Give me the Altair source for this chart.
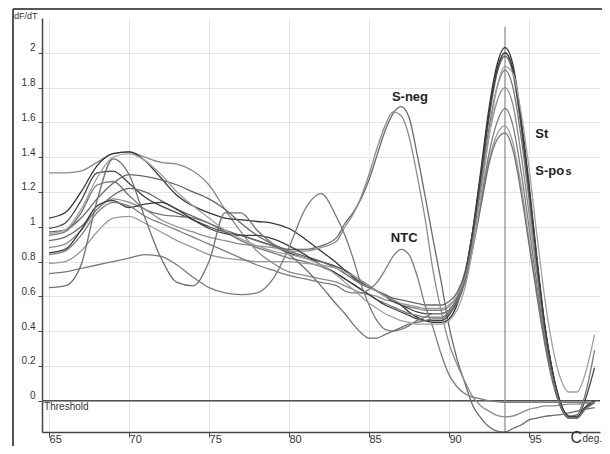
import altair as alt
import pandas as pd

# temperature grids (deg C)
temps_left = [65, 66, 67, 68, 69, 70, 71, 72, 73, 74, 75, 76, 77, 78, 79, 80, 81, 82, 83]
temps_mid = [83.5, 84, 84.5, 85, 85.5, 86, 86.5, 87, 87.5, 88, 88.5]
temps_right = [89, 89.5, 90, 90.5, 91, 91.5, 92, 92.5, 93, 93.5, 94, 94.5, 95, 95.5, 96, 96.5, 97, 97.5, 98, 98.5, 99.1]

# dF/dT values
A_left = [1.31, 1.31, 1.32, 1.37, 1.42, 1.43, 1.40, 1.37, 1.36, 1.32, 1.24, 1.10, 0.97, 0.86, 0.79, 0.74, 0.72, 0.70, 0.68]
A_mid = [0.66, 0.64, 0.62, 0.61, 0.60, 0.58, 0.57, 0.55, 0.54, 0.53, 0.52]
A_right = [0.52, 0.52, 0.54, 0.60, 0.72, 0.94, 1.22, 1.52, 1.72, 1.80, 1.70, 1.42, 1.08, 0.72, 0.38, 0.13, -0.03, -0.09, -0.09, -0.04, 0.00]

B_left = [1.05, 1.08, 1.20, 1.35, 1.42, 1.43, 1.38, 1.28, 1.18, 1.12, 1.08, 1.05, 1.04, 1.03, 1.02, 0.99, 0.93, 0.86, 0.79]
B_mid = [0.75, 0.71, 0.68, 0.66, 0.63, 0.61, 0.58, 0.55, 0.51, 0.48, 0.46]
B_right = [0.45, 0.45, 0.47, 0.55, 0.71, 0.99, 1.33, 1.68, 1.93, 2.03, 1.93, 1.63, 1.25, 0.82, 0.43, 0.16, -0.02, -0.10, -0.10, -0.04, 0.00]

C_left = [0.99, 1.02, 1.15, 1.31, 1.32, 1.25, 1.17, 1.12, 1.08, 1.04, 1.00, 0.97, 0.95, 0.92, 0.89, 0.85, 0.82, 0.80, 0.77]
C_mid = [0.75, 0.72, 0.69, 0.66, 0.63, 0.60, 0.57, 0.55, 0.53, 0.51, 0.50]
C_right = [0.50, 0.50, 0.52, 0.59, 0.73, 0.98, 1.30, 1.65, 1.90, 2.00, 1.90, 1.60, 1.22, 0.80, 0.42, 0.15, -0.02, -0.09, -0.10, 0.00, 0.19]

D_left = [0.97, 0.98, 1.05, 1.16, 1.25, 1.30, 1.29, 1.27, 1.24, 1.20, 1.16, 1.10, 1.02, 0.95, 0.90, 0.86, 0.83, 0.80, 0.76]
D_mid = [0.73, 0.70, 0.67, 0.65, 0.63, 0.61, 0.59, 0.58, 0.57, 0.56, 0.55]
D_right = [0.55, 0.55, 0.57, 0.62, 0.74, 0.98, 1.28, 1.62, 1.88, 1.98, 1.88, 1.58, 1.20, 0.79, 0.41, 0.14, -0.03, -0.10, -0.10, -0.05, -0.01]

E_left = [0.95, 0.97, 1.08, 1.24, 1.26, 1.18, 1.10, 1.07, 1.06, 1.05, 1.02, 0.97, 0.92, 0.88, 0.85, 0.82, 0.80, 0.77, 0.73]
E_mid = [0.70, 0.67, 0.64, 0.61, 0.58, 0.56, 0.54, 0.52, 0.50, 0.49, 0.48]
E_right = [0.48, 0.48, 0.51, 0.58, 0.71, 0.95, 1.25, 1.57, 1.80, 1.90, 1.80, 1.52, 1.16, 0.76, 0.40, 0.14, -0.03, -0.09, -0.08, 0.03, 0.29]

F_left = [0.92, 0.94, 1.00, 1.10, 1.18, 1.22, 1.20, 1.15, 1.10, 1.06, 1.02, 0.98, 0.95, 0.92, 0.89, 0.87, 0.87, 0.89, 0.94]
F_mid = [1.02, 1.08, 1.16, 1.27, 1.41, 1.55, 1.65, 1.69, 1.63, 1.42, 1.18]
F_right = [0.93, 0.69, 0.43, 0.24, 0.10, -0.03, -0.10, -0.15, -0.175, -0.18, -0.16, -0.14, -0.11, -0.10, -0.09, -0.085, -0.08, -0.07, -0.06, -0.05, -0.04]

G_left = [0.88, 0.90, 0.98, 1.10, 1.16, 1.14, 1.10, 1.04, 1.00, 0.97, 0.94, 0.92, 0.90, 0.89, 0.88, 0.86, 0.86, 0.88, 0.92]
G_mid = [1.00, 1.07, 1.17, 1.30, 1.45, 1.58, 1.66, 1.64, 1.52, 1.30, 1.05]
G_right = [0.75, 0.52, 0.33, 0.21, 0.11, 0.02, -0.03, -0.06, -0.085, -0.093, -0.088, -0.07, -0.05, -0.04, -0.03, -0.03, -0.025, -0.02, -0.02, -0.015, -0.01]

H_left = [0.85, 0.87, 0.98, 1.12, 1.15, 1.11, 1.13, 1.14, 1.10, 1.04, 0.99, 0.96, 0.95, 0.95, 0.93, 0.89, 0.84, 0.78, 0.73]
H_mid = [0.70, 0.67, 0.64, 0.61, 0.58, 0.55, 0.53, 0.51, 0.49, 0.47, 0.46]
H_right = [0.46, 0.46, 0.49, 0.57, 0.72, 0.98, 1.30, 1.65, 1.90, 2.00, 1.90, 1.60, 1.22, 0.80, 0.42, 0.15, -0.02, -0.09, -0.09, -0.04, 0.00]

I_left = [0.79, 0.80, 0.86, 0.97, 1.05, 1.06, 1.02, 0.97, 0.92, 0.88, 0.84, 0.82, 0.81, 0.80, 0.80, 0.80, 0.79, 0.78, 0.76]
I_mid = [0.74, 0.72, 0.69, 0.66, 0.63, 0.60, 0.58, 0.56, 0.55, 0.54, 0.53]
I_right = [0.53, 0.53, 0.55, 0.60, 0.71, 0.90, 1.14, 1.38, 1.53, 1.58, 1.48, 1.24, 0.93, 0.62, 0.33, 0.11, -0.04, -0.10, -0.10, -0.05, -0.01]

J_left = [0.73, 0.74, 0.76, 0.78, 0.80, 0.82, 0.84, 0.83, 0.78, 0.71, 0.65, 0.62, 0.61, 0.62, 0.70, 0.88, 1.10, 1.19, 1.05]
J_mid = [0.95, 0.82, 0.67, 0.55, 0.46, 0.41, 0.40, 0.41, 0.43, 0.46, 0.48]
J_right = [0.50, 0.50, 0.52, 0.58, 0.69, 0.90, 1.15, 1.42, 1.60, 1.68, 1.58, 1.32, 1.00, 0.66, 0.35, 0.12, -0.04, -0.10, -0.10, -0.05, -0.01]

K_left = [0.65, 0.66, 0.78, 1.15, 1.39, 1.30, 1.05, 0.82, 0.68, 0.66, 0.80, 1.08, 1.08, 0.98, 0.90, 0.84, 0.76, 0.66, 0.55]
K_mid = [0.50, 0.44, 0.39, 0.36, 0.36, 0.38, 0.40, 0.42, 0.44, 0.45, 0.46]
K_right = [0.47, 0.47, 0.50, 0.56, 0.68, 0.88, 1.12, 1.36, 1.50, 1.54, 1.44, 1.20, 0.90, 0.60, 0.32, 0.10, -0.04, -0.10, -0.10, -0.05, -0.01]

L_left = [0.84, 0.86, 0.95, 1.08, 1.14, 1.12, 1.06, 1.02, 0.98, 0.94, 0.90, 0.86, 0.82, 0.78, 0.75, 0.72, 0.70, 0.68, 0.66]
L_mid = [0.63, 0.62, 0.62, 0.64, 0.68, 0.75, 0.83, 0.87, 0.84, 0.72, 0.55]
L_right = [0.42, 0.27, 0.15, 0.08, 0.04, 0.02, 0.01, 0.00, -0.005, -0.01, -0.01, -0.01, -0.01, -0.01, -0.01, -0.01, -0.01, -0.01, -0.01, -0.01, -0.01]

M_left = [0.96, 0.98, 1.10, 1.28, 1.40, 1.42, 1.38, 1.30, 1.20, 1.12, 1.05, 0.98, 0.93, 0.89, 0.86, 0.84, 0.82, 0.78, 0.72]
M_mid = [0.68, 0.64, 0.60, 0.56, 0.53, 0.50, 0.48, 0.46, 0.45, 0.44, 0.44]
M_right = [0.44, 0.44, 0.46, 0.52, 0.65, 0.88, 1.18, 1.52, 1.80, 1.92, 1.88, 1.66, 1.34, 0.95, 0.58, 0.30, 0.12, 0.05, 0.05, 0.15, 0.38]

curve_names = ["A", "B", "C", "D", "E", "F", "G", "H", "I", "J", "K", "L", "M"]
curve_colors = ["#8a8a8a", "#333333", "#454545", "#666666", "#777777", "#6a6a6a", "#8c8c8c",
                "#3d3d3d", "#9a9a9a", "#7a7a7a", "#707070", "#7c7c7c", "#a0a0a0"]
curve_parts = {
    "A": (A_left, A_mid, A_right), "B": (B_left, B_mid, B_right), "C": (C_left, C_mid, C_right),
    "D": (D_left, D_mid, D_right), "E": (E_left, E_mid, E_right), "F": (F_left, F_mid, F_right),
    "G": (G_left, G_mid, G_right), "H": (H_left, H_mid, H_right), "I": (I_left, I_mid, I_right),
    "J": (J_left, J_mid, J_right), "K": (K_left, K_mid, K_right), "L": (L_left, L_mid, L_right),
    "M": (M_left, M_mid, M_right),
}

x_ticks = [65, 70, 75, 80, 85, 90, 95]
y_ticks = [0, 0.2, 0.4, 0.6, 0.8, 1, 1.2, 1.4, 1.6, 1.8, 2]

temps = temps_left + temps_mid + temps_right
rows = []
for name in curve_names:
    vals = curve_parts[name][0] + curve_parts[name][1] + curve_parts[name][2]
    for i, (t, v) in enumerate(zip(temps, vals)):
        rows.append({"curve": name, "t": t, "v": v, "i": i})
df = pd.DataFrame(rows)

FONT = "Liberation Sans"
xscale = alt.Scale(domain=[64.56, 99.44], nice=False, zero=False)
yscale = alt.Scale(domain=[-0.18, 2.2], nice=False, zero=False)

xaxis = alt.Axis(values=x_ticks, format="d", title=None, labelAlign="left", labelBaseline="top",
                 labelPadding=-4, labelFlush=False, tickSize=5, labelFontSize=11, labelColor="#333",
                 labelFont=FONT, domainColor="#444", domainWidth=1.5, tickColor="#444",
                 gridColor="#e4e4e4", gridWidth=1)
yaxis = alt.Axis(values=y_ticks, format="~g", title=None, labelBaseline="bottom", labelPadding=3,
                 labelFlush=False, tickSize=4, labelFontSize=10, labelColor="#333", labelFont=FONT,
                 domainColor="#444", domainWidth=1.5, tickColor="#444", gridColor="#e4e4e4", gridWidth=1)

lines = alt.Chart(df).mark_line(interpolate="monotone", strokeWidth=1.3, clip=True).encode(
    x=alt.X("t:Q", scale=xscale, axis=xaxis),
    y=alt.Y("v:Q", scale=yscale, axis=yaxis),
    color=alt.Color("curve:N", scale=alt.Scale(domain=curve_names, range=curve_colors), legend=None),
    detail="curve:N",
    order="i:Q",
)

threshold = alt.Chart(pd.DataFrame({"v": [0.0]})).mark_rule(color="#505050", strokeWidth=1.6).encode(
    y=alt.Y("v:Q", scale=yscale)
)

marker = alt.Chart(pd.DataFrame({"t": [93.5], "a": [2.15], "b": [-0.18]})).mark_rule(
    color="#8a8a8a", strokeWidth=1.2
).encode(x=alt.X("t:Q", scale=xscale), y=alt.Y("a:Q", scale=yscale), y2="b:Q")

labels_df = pd.DataFrame({
    "t": [87.56, 87.2, 95.4, 95.4],
    "v": [1.744, 0.934, 1.51, 1.30],
    "text": ["S-neg", "NTC", "St", "S-po"],
    "align": ["center", "center", "left", "left"],
})
lab_center = alt.Chart(labels_df[labels_df["align"] == "center"]).mark_text(
    font=FONT, fontSize=13, fontWeight="bold", color="#222", align="center", baseline="middle"
).encode(x=alt.X("t:Q", scale=xscale), y=alt.Y("v:Q", scale=yscale), text="text:N")
lab_left = alt.Chart(labels_df[labels_df["align"] == "left"]).mark_text(
    font=FONT, fontSize=13, fontWeight="bold", color="#222", align="left", baseline="alphabetic"
).encode(x=alt.X("t:Q", scale=xscale), y=alt.Y("v:Q", scale=yscale), text="text:N")
lab_s = alt.Chart(pd.DataFrame({"t": [97.28], "v": [1.30], "text": ["s"]})).mark_text(
    font=FONT, fontSize=11, fontWeight="bold", color="#222", align="left", baseline="alphabetic"
).encode(x=alt.X("t:Q", scale=xscale), y=alt.Y("v:Q", scale=yscale), text="text:N")

thr_text = alt.Chart(pd.DataFrame({"t": [64.69], "v": [-0.037], "text": ["Threshold"]})).mark_text(
    font=FONT, fontSize=10, color="#333", align="left", baseline="middle"
).encode(x=alt.X("t:Q", scale=xscale), y=alt.Y("v:Q", scale=yscale), text="text:N")

c_text = alt.Chart(pd.DataFrame({"t": [97.6], "text": ["C"]})).mark_text(
    font=FONT, fontSize=16, color="#333", align="left", baseline="bottom"
).encode(x=alt.X("t:Q", scale=xscale), y=alt.value(428), text="text:N")
deg_text = alt.Chart(pd.DataFrame({"t": [98.35], "text": ["deg."]})).mark_text(
    font=FONT, fontSize=10, color="#333", align="left", baseline="top"
).encode(x=alt.X("t:Q", scale=xscale), y=alt.value(416), text="text:N")

dfdt = alt.Chart(pd.DataFrame({"text": ["dF/dT"]})).mark_text(
    font=FONT, fontSize=9, color="#333", align="left", baseline="middle"
).encode(x=alt.value(-28), y=alt.value(-2), text="text:N")

frame_left = alt.Chart(pd.DataFrame({"k": [0]})).mark_rule(color="#555", strokeWidth=2).encode(
    x=alt.value(-29), y=alt.value(-9), y2=alt.value(430)
)
frame_top = alt.Chart(pd.DataFrame({"k": [0]})).mark_rule(color="#555", strokeWidth=2).encode(
    x=alt.value(-29), x2=alt.value(560), y=alt.value(-9)
)

chart = alt.layer(
    threshold, marker, lines, lab_center, lab_left, lab_s, thr_text, c_text, deg_text, dfdt,
    frame_left, frame_top
).properties(
    width=558, height=414,
    autosize=alt.AutoSizeParams(type="none"),
    padding={"left": 34, "top": 10, "right": 2, "bottom": 14},
    background="white",
).configure_view(stroke=None)

chart.save("out.html", embed_options={"renderer": "svg", "actions": False})
